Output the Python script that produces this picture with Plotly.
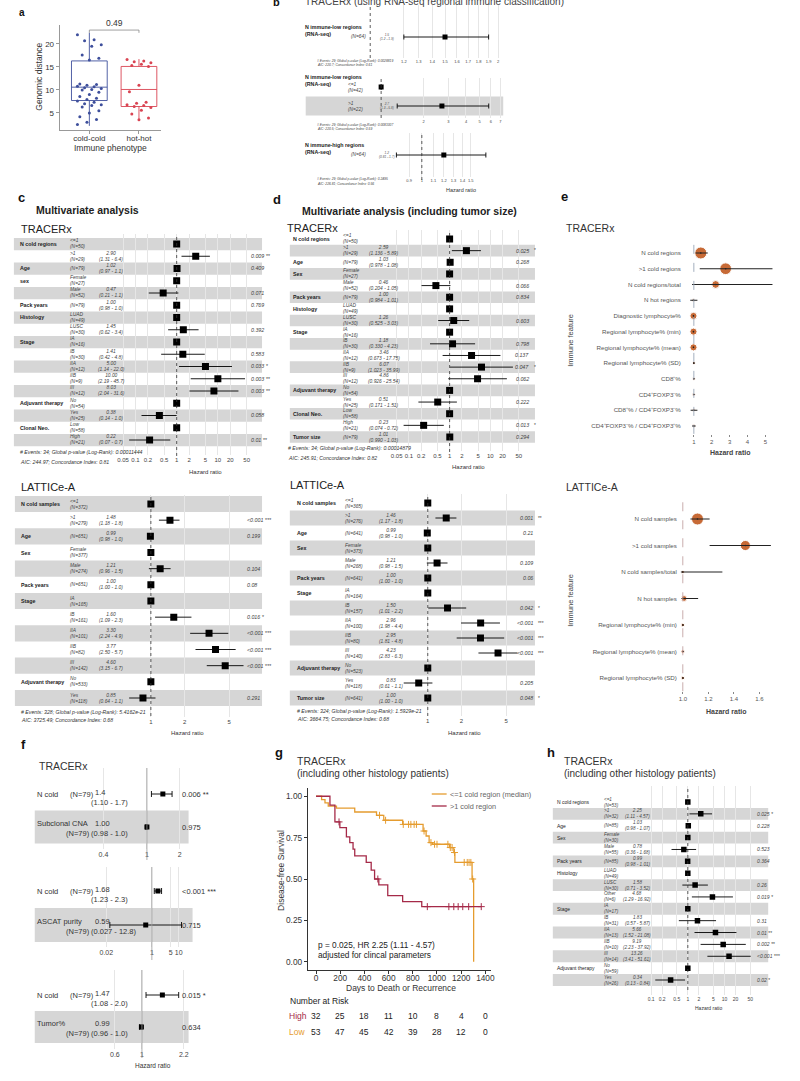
import plotly.graph_objects as go

FONT = "Liberation Sans, Arial, Helvetica, sans-serif"
W, H = 800, 1081
BAND = "#d6d6d6"

# ======================= DATA =======================
# ---- Panel a
a_groups = ["cold-cold", "hot-hot"]
a_cold = [22.0, 20.9, 20.7, 19.8, 19.5, 17.6, 16.9, 16.5, 11.3, 11.2, 11.0, 10.8, 10.7, 10.5,
          10.3, 10.1, 10.0, 9.5, 9.0, 8.6, 8.2, 7.9, 7.6, 7.3, 7.0, 6.8, 6.6, 6.3, 5.5, 5.0,
          4.2, 3.6, 3.0, 2.5]
a_hot = [16.6, 16.3, 16.1, 15.9, 15.6, 15.3, 15.1, 11.0, 9.6, 7.3, 7.1, 6.8, 6.6, 6.4, 6.2,
         5.6, 4.8, 3.9, 3.5]
a_q1 = [7.7, 6.4]
a_med = [10.6, 10.1]
a_q3 = [16.3, 15.1]
a_low = [2.2, 3.7]
a_high = [22.4, 16.7]
a_p = "0.49"
a_yticks = [5, 10, 15, 20]

# ---- Panel b
b_titles = ["N immune-low regions", "N immune-low regions", "N immune-high regions"]
b1_level = [""]; b1_n = [64]; b1_hr = ["1.5"]; b1_lo = ["1.2"]; b1_hi = ["1.9"]; b1_p = ["0.002 **"]
b2_level = ["<=1", ">1"]; b2_n = [42, 22]; b2_hr = ["", "2.7"]; b2_lo = ["", "1.3"]; b2_hi = ["", "5.8"]; b2_p = ["", "0.008 **"]
b3_level = [""]; b3_n = [64]; b3_hr = ["1.2"]; b3_lo = ["0.81"]; b3_hi = ["1.7"]; b3_p = ["0.336"]
b1_ticks = [1.2, 1.3, 1.4, 1.5, 1.6, 1.7, 1.8, 1.9, 2]
b2_ticks = [2, 3, 4, 5, 6, 7]
b3_ticks = [0.9, 1, 1.1, 1.2, 1.3, 1.4, 1.5]
b_notes = [["# Events: 29; Global p-value (Log-Rank): 0.0028819", "AIC: 220.7; Concordance Index: 0.61"],
           ["# Events: 29; Global p-value (Log-Rank): 0.0081007", "AIC: 220.5; Concordance Index: 0.59"],
           ["# Events: 29; Global p-value (Log-Rank): 0.2495", "AIC: 226.81; Concordance Index: 0.56"]]

# ---- Panel c (TRACERx)
c1_var = ["N cold regions", "", "Age", "sex", "", "Pack years", "Histology", "", "Stage", "", "", "", "",
          "Adjuvant therapy", "", "Clonal Neo.", ""]
c1_level = ["<=1", ">1", "", "Female", "Male", "", "LUAD", "LUSC", "IA", "IB", "IIA", "IIB", "III",
            "No", "Yes", "Low", "High"]
c1_n = [50, 29, 79, 27, 52, 79, 49, 30, 16, 30, 12, 9, 12, 54, 25, 58, 21]
c1_hr = ["", "2.90", "1.02", "", "0.47", "1.00", "", "1.45", "", "1.41", "5.00", "10.00", "8.03", "", "0.38", "", "0.22"]
c1_lo = ["", "1.31", "0.97", "", "0.21", "0.98", "", "0.62", "", "0.42", "1.14", "2.19", "2.04", "", "0.14", "", "0.07"]
c1_hi = ["", "6.4", "1.1", "", "1.1", "1.0", "", "3.4", "", "4.8", "22.0", "45.7", "31.6", "", "1.0", "", "0.7"]
c1_p = ["", "0.009 **", "0.409", "", "0.071", "0.769", "", "0.392", "", "0.583", "0.033 *", "0.003 **",
        "0.003 **", "", "0.058", "", "0.01 **"]
c1_notes = ["# Events: 34; Global p-value (Log-Rank): 0.00011444", "AIC: 244.97; Concordance Index: 0.81"]
c1_ticks = [0.05, 0.1, 0.2, 0.5, 1, 2, 5, 10, 20, 50]

# ---- Panel c (LATTICe-A)
c2_var = ["N cold samples", "", "Age", "Sex", "", "Pack years", "Stage", "", "", "", "", "Adjuvant therapy", ""]
c2_level = ["<=1", ">1", "", "Female", "Male", "", "IA", "IB", "IIA", "IIB", "III", "No", "Yes"]
c2_n = [372, 279, 651, 377, 274, 651, 165, 161, 101, 82, 142, 533, 118]
c2_hr = ["", "1.48", "0.99", "", "1.21", "1.00", "", "1.60", "3.30", "3.77", "4.60", "", "0.85"]
c2_lo = ["", "1.18", "0.98", "", "0.96", "1.00", "", "1.09", "2.24", "2.50", "3.15", "", "0.64"]
c2_hi = ["", "1.8", "1.0", "", "1.5", "1.0", "", "2.3", "4.9", "5.7", "6.7", "", "1.1"]
c2_p = ["", "<0.001 ***", "0.199", "", "0.104", "0.08", "", "0.016 *", "<0.001 ***", "<0.001 ***",
        "<0.001 ***", "", "0.291"]
c2_notes = ["# Events: 328; Global p-value (Log-Rank): 5.4162e-21", "AIC: 3725.49; Concordance Index: 0.68"]
c2_ticks = [1, 2, 5]

# ---- Panel d (TRACERx)
d1_var = ["N cold regions", "", "Age", "Sex", "", "Pack years", "Histology", "", "Stage", "", "", "", "",
          "Adjuvant therapy", "", "Clonal Neo.", "", "Tumor size"]
d1_level = ["<=1", ">1", "", "Female", "Male", "", "LUAD", "LUSC", "IA", "IB", "IIA", "IIB", "III",
            "No", "Yes", "Low", "High", ""]
d1_n = [50, 29, 79, 27, 52, 79, 49, 30, 16, 30, 12, 9, 12, 54, 25, 58, 21, 79]
d1_hr = ["", "2.59", "1.03", "", "0.46", "1.00", "", "1.26", "", "1.18", "3.46", "6.07", "4.86", "", "0.51", "", "0.23", "1.01"]
d1_lo = ["", "1.136", "0.978", "", "0.204", "0.984", "", "0.525", "", "0.330", "0.673", "1.023", "0.926", "", "0.171", "", "0.074", "0.990"]
d1_hi = ["", "5.89", "1.08", "", "1.05", "1.01", "", "3.03", "", "4.23", "17.75", "35.99", "25.54", "", "1.51", "", "0.72", "1.03"]
d1_p = ["", "0.025 *", "0.268", "", "0.066", "0.834", "", "0.603", "", "0.798", "0.137", "0.047 *", "0.062",
        "", "0.222", "", "0.013 *", "0.294"]
d1_notes = ["# Events: 34; Global p-value (Log-Rank): 0.00014879", "AIC: 245.91; Concordance Index: 0.82"]

# ---- Panel d (LATTICe-A)
d2_var = ["N cold samples", "", "Age", "Sex", "", "Pack years", "Stage", "", "", "", "", "Adjuvant therapy", "", "Tumor size"]
d2_level = ["<=1", ">1", "", "Female", "Male", "", "IA", "IB", "IIA", "IIB", "III", "No", "Yes", ""]
d2_n = [365, 276, 641, 373, 268, 641, 164, 157, 100, 80, 140, 523, 118, 641]
d2_hr = ["", "1.46", "0.99", "", "1.21", "1.00", "", "1.50", "2.96", "2.95", "4.23", "", "0.83", "1.00"]
d2_lo = ["", "1.17", "0.98", "", "0.98", "1.00", "", "1.01", "1.98", "1.81", "2.83", "", "0.61", "1.00"]
d2_hi = ["", "1.8", "1.0", "", "1.5", "1.0", "", "2.2", "4.4", "4.8", "6.3", "", "1.1", "1.0"]
d2_p = ["", "0.001 **", "0.21", "", "0.109", "0.06", "", "0.042 *", "<0.001 ***", "<0.001 ***", "<0.001 ***",
        "", "0.205", "0.048 *"]
d2_notes = ["# Events: 324; Global p-value (Log-Rank): 1.5929e-21", "AIC: 3664.75; Concordance Index: 0.68"]

# ---- Panel e
e1_labels = ["N cold regions", ">1 cold regions", "N cold regions/total", "N hot regions",
             "Diagnostic lymphocyte%", "Regional lymphocyte% (min)", "Regional lymphocyte% (mean)",
             "Regional lymphocyte% (SD)", "CD8⁺%", "CD4⁺FOXP3⁻%", "CD8⁺% / CD4⁺FOXP3⁻%",
             "CD4⁺FOXP3⁻% / CD4⁺FOXP3⁺%"]
e1_hr = [1.39, 2.78, 2.22, 0.98, 0.98, 0.98, 0.98, 1.0, 1.0, 1.0, 1.0, 1.0]
e1_lo = [1.10, 1.33, 0.90, 0.80, 0.95, 0.95, 0.95, 0.96, 0.97, 0.97, 0.82, 0.90]
e1_hi = [1.78, 5.40, 5.40, 1.20, 1.01, 1.01, 1.01, 1.04, 1.03, 1.03, 1.20, 1.10]
e1_sig = [2.9, 2.8, 1.6, 0.1, 1.4, 1.4, 1.4, 0.1, 0.1, 0.1, 0.1, 0.1]
e1_ticks = [1, 2, 3, 4, 5]
e2_labels = ["N cold samples", ">1 cold samples", "N cold samples/total", "N hot samples",
             "Regional lymphocyte% (min)", "Regional lymphocyte% (mean)", "Regional lymphocyte% (SD)"]
e2_hr = [1.115, 1.49, 1.0, 1.01, 1.0, 1.0, 1.0]
e2_lo = [1.06, 1.21, 0.985, 0.99, 0.995, 0.995, 0.995]
e2_hi = [1.21, 1.69, 1.31, 1.12, 1.008, 1.008, 1.008]
e2_sig = [2.9, 2.3, 0.2, 1.0, 0.3, 0.3, 0.3]
e2_ticks = [1.0, 1.2, 1.4, 1.6]

# ---- Panel f
f1_name = ["N cold", "Subclonal CNA"]; f1_n = [79, 79]; f1_hr = ["1.4", "1.00"]; f1_lo = ["1.10", "0.98"]
f1_hi = ["1.7", "1.0"]; f1_p = ["0.006 **", "0.975"]; f1_ticks = [0.4, 1, 2]
f2_name = ["N cold", "ASCAT purity"]; f2_n = [79, 79]; f2_hr = ["1.68", "0.59"]; f2_lo = ["1.23", "0.027"]
f2_hi = ["2.3", "12.8"]; f2_p = ["<0.001 ***", "0.715"]; f2_ticks = [0.02, 1, 5, 10]
f3_name = ["N cold", "Tumor%"]; f3_n = [79, 79]; f3_hr = ["1.47", "0.99"]; f3_lo = ["1.08", "0.96"]
f3_hi = ["2.0", "1.0"]; f3_p = ["0.015 *", "0.634"]; f3_ticks = [0.6, 1, 2.2]

# ---- Panel g (Kaplan-Meier)
g_low_t = [0, 46, 74, 101, 169, 320, 500, 560, 716, 885, 910, 935, 962, 1104, 1139, 1148, 1290, 1303]
g_low_s = [1.0, 0.98, 0.96, 0.94, 0.928, 0.905, 0.885, 0.855, 0.83, 0.79, 0.76, 0.72, 0.71, 0.69, 0.66, 0.60, 0.50, 0.0]
g_high_t = [0, 115, 156, 197, 251, 279, 306, 320, 415, 456, 484, 519, 593, 716, 874, 1366]
g_high_s = [1.0, 0.946, 0.845, 0.81, 0.755, 0.72, 0.68, 0.64, 0.60, 0.554, 0.50, 0.465, 0.40, 0.363, 0.333, 0.333]
g_low_cens = [525, 575, 721, 765, 784, 811, 830, 893, 950, 980, 1000, 1090, 1110, 1125, 1145, 1225, 1250,
              1265, 1280, 1295]
g_high_cens = [190, 511, 920, 1098, 1139, 1175, 1213, 1262, 1366]
g_xticks = [0, 200, 400, 600, 800, 1000, 1200, 1400]
g_yticks = [0, 0.25, 0.5, 0.75, 1.0]
g_risk_high = [32, 25, 18, 11, 10, 8, 4, 0]
g_risk_low = [53, 47, 45, 42, 39, 28, 12, 0]
g_legend = ["<=1 cold region (median)", ">1 cold region"]

# ---- Panel h
h_var = ["N cold regions", "", "Age", "Sex", "", "Pack years", "Histology", "", "", "Stage", "", "", "", "",
         "Adjuvant therapy", ""]
h_level = ["<=1", ">1", "", "Female", "Male", "", "LUAD", "LUSC", "Other", "IA", "IB", "IIA", "IIB", "III", "No", "Yes"]
h_n = [53, 32, 85, 30, 55, 85, 49, 30, 6, 17, 31, 13, 10, 14, 59, 26]
h_hr = ["", "2.25", "1.03", "", "0.78", "0.99", "", "1.58", "4.68", "", "1.83", "5.66", "9.19", "13.26", "", "0.34"]
h_lo = ["", "1.11", "0.98", "", "0.36", "0.98", "", "0.71", "1.29", "", "0.57", "1.52", "2.23", "3.41", "", "0.13"]
h_hi = ["", "4.57", "1.07", "", "1.68", "1.01", "", "3.52", "16.92", "", "5.87", "21.08", "37.92", "51.61", "", "0.84"]
h_p = ["", "0.025 *", "0.228", "", "0.523", "0.364", "", "0.26", "0.019 *", "", "0.31", "0.01 **", "0.002 **",
       "<0.001 ***", "", "0.02 *"]
h_ticks = [0.1, 0.2, 0.5, 1, 2, 5, 10, 20, 50]

# ======================= HELPERS =======================
fig = go.Figure()
annotations, shapes, axes = [], [], {}
n_ax = [0]


def X(p):
    return p / W


def Y(p):
    return 1 - p / H


def esc(s):
    return s.replace("&", "&amp;").replace("<", "&lt;").replace(">", "&gt;")


def new_axes(x0, x1, y0, y1, xopt=None, yopt=None):
    n_ax[0] += 1
    k = n_ax[0]
    sfx = "" if k == 1 else str(k)
    base = dict(showgrid=False, zeroline=False, showline=False, ticks="", showticklabels=False,
                fixedrange=True, tickangle=0)
    xa = dict(base, domain=[X(x0), X(x1)], anchor="y" + sfx)
    ya = dict(base, domain=[Y(y1), Y(y0)], anchor="x" + sfx)
    if xopt:
        xa.update(xopt)
    if yopt:
        ya.update(yopt)
    axes["xaxis" + sfx] = xa
    axes["yaxis" + sfx] = ya
    return "x" + sfx, "y" + sfx


def txt(x, y, s, size=5.0, color="#222", xa="left", ya="middle", xref="paper", yref="paper",
        angle=0, align="left", yshift=0):
    annotations.append(dict(
        x=X(x) if xref == "paper" else x, y=Y(y) if yref == "paper" else y,
        xref=xref, yref=yref, text=s, showarrow=False, xanchor=xa, yanchor=ya, yshift=yshift,
        font=dict(family=FONT, size=size, color=color), textangle=angle, align=align))


def forest(d, y_first, y_last, ytop, ybot, x1px, ppd, xdom, band, odd_gray, ticks, tick_fs=6.0,
           msize=7, caps=0, vline=None, vstyle=None, row_h=12, grid=True):
    n = len(d["hr"])
    h = row_h if n == 1 else (y_last - y_first) / (n - 1)
    vt = (ytop - y_first) / h
    vb = (ybot - y_first) / h
    xr = [(xdom[0] - x1px) / ppd, (xdom[1] - x1px) / ppd]
    xa, ya = new_axes(xdom[0], xdom[1], ytop, ybot,
                      dict(type="log", range=xr, tickvals=ticks, ticktext=[f"{t:g}" for t in ticks],
                           showticklabels=True, tickfont=dict(size=tick_fs, color="#444", family=FONT),
                           showgrid=grid, gridcolor="#e6e6e6", gridwidth=0.6, tickangle=0),
                      dict(range=[vb, vt]))
    rows = list(range(n))
    if band:
        for i in rows:
            if (i % 2 == 1) == odd_gray:
                shapes.append(dict(type="rect", xref="paper", yref=ya, x0=X(band[0]), x1=X(band[1]),
                                   y0=i - 0.5, y1=i + 0.5, fillcolor=BAND, line=dict(width=0), layer="below"))
    if vline:
        st = vstyle or dict(color="#333", width=0.8, dash="dot")
        shapes.append(dict(type="line", xref=xa, yref="paper", x0=1, x1=1, y0=Y(vline[1]), y1=Y(vline[0]),
                           line=st))
    hr = [float(v) if v else 1.0 for v in d["hr"]]
    ep = [float(d["hi"][i]) - hr[i] if d["hi"][i] else 0 for i in rows]
    em = [hr[i] - float(d["lo"][i]) if d["lo"][i] else 0 for i in rows]
    fig.add_trace(go.Scatter(
        x=hr, y=rows, xaxis=xa, yaxis=ya, mode="markers",
        marker=dict(symbol="square", size=msize, color="black"),
        error_x=dict(type="data", symmetric=False, array=ep, arrayminus=em, color="black",
                     thickness=0.9, width=caps),
        hoverinfo="skip", showlegend=False))
    return xa, ya


def forest_texts(d, ya, col_var, col_lvl, col_hr, p_x, p_right, fs, var_bold=True):
    for i in range(len(d["hr"])):
        v = d["var"][i]
        if v:
            s = esc(v)
            txt(col_var, i, f"<b>{s}</b>" if var_bold else s, fs, "#222", yref=ya)
        lvl = d["level"][i]
        ns = f"(N={d['n'][i]})"
        s = f"{esc(lvl)}<br>{ns}" if lvl else ns
        txt(col_lvl, i, f"<i>{s}</i>", fs * 0.92, "#444", yref=ya)
        if d["lo"][i]:
            txt(col_hr, i, f"<i>{d['hr'][i]}<br>({d['lo'][i]} - {d['hi'][i]})</i>", fs * 0.92, "#444",
                xa="center", yref=ya, align="center")
        p = d["p"][i]
        if p:
            num, _, stars = p.partition(" ")
            if p_right:
                txt(p_x, i, f"<i>{esc(num)}</i>", fs, "#444", xa="right", yref=ya)
                if stars:
                    txt(p_x + 1, i, stars, fs * 0.9, "#444", yref=ya)
            else:
                txt(p_x, i, f"<i>{esc(p)}</i>", fs, "#444", yref=ya)


def pack(var, level, n, hr, lo, hi, p):
    return dict(var=var, level=level, n=n, hr=hr, lo=lo, hi=hi, p=p)


# ======================= PANEL a =======================
BLUE, RED = "#3e4f9c", "#d94452"
xa, ya = new_axes(58, 160, 25, 130,
                  dict(range=[-0.6, 1.44], tickvals=[0, 1], ticktext=a_groups, showticklabels=True,
                       showline=True, linecolor="#999", linewidth=0.8, ticks="outside", ticklen=3,
                       tickcolor="#999", tickfont=dict(size=8, color="#333"), ticklabelstandoff=-3),
                  dict(range=[1.3, 24.1], tickvals=a_yticks, showticklabels=True, showline=True,
                       linecolor="#999", linewidth=0.8, ticks="outside", ticklen=3, tickcolor="#999",
                       tickfont=dict(size=8, color="#333")))
for gi, col in enumerate([BLUE, RED]):
    fig.add_trace(go.Box(x=[gi], q1=[a_q1[gi]], median=[a_med[gi]], q3=[a_q3[gi]],
                         lowerfence=[a_low[gi]], upperfence=[a_high[gi]], width=0.72, whiskerwidth=0,
                         orientation="v", fillcolor="rgba(255,255,255,0)", line=dict(color=col, width=0.9),
                         boxpoints=False, xaxis=xa, yaxis=ya, hoverinfo="skip", showlegend=False))
for gi, (vals, col) in enumerate([(a_cold, BLUE), (a_hot, RED)]):
    jit = [gi + ((i * 7) % 11 - 5) / 5 * 0.24 for i in range(len(vals))]
    fig.add_trace(go.Scatter(x=jit, y=vals, xaxis=xa, yaxis=ya, mode="markers",
                             marker=dict(size=3, color=col), hoverinfo="skip", showlegend=False))
shapes.append(dict(type="path", xref=xa, yref=ya, path="M 0 22.4 L 0 23.0 L 1 23.0 L 1 22.4",
                   line=dict(color="#888", width=0.8)))
txt(0.5, 23.0, a_p, 8.5, "#333", xa="center", ya="bottom", xref=xa, yref=ya)
txt(37, 77, "Genomic distance", 8.5, "#333", xa="center", angle=-90)
txt(109, 148, "Immune phenotype", 8.5, "#333", xa="center")
txt(20, 12, "<b>a</b>", 10, "#111", xa="center")

# ======================= PANEL b =======================
txt(277, 2, "<b>b</b>", 11, "#111", xa="center")
txt(303, 1, "TRACERx (using RNA-seq regional immune classification)", 10, "#444")
b_specs = [
    (pack([""], b1_level, b1_n, b1_hr, b1_lo, b1_hi, b1_p), dict(y_first=37, y_last=37, ytop=5, ybot=58,
     x1px=371, ppd=428, xdom=(366, 505), band=None, odd_gray=True, ticks=b1_ticks, vline=(5, 58)), 30.5, 61),
    (pack(["", ""], b2_level, b2_n, b2_hr, b2_lo, b2_hi, b2_p), dict(y_first=87, y_last=106, ytop=78, ybot=118,
     x1px=382, ppd=142, xdom=(366, 505), band=(306, 505), odd_gray=True, ticks=b2_ticks, vline=(78, 118)), 80.5, 125),
    (pack([""], b3_level, b3_n, b3_hr, b3_lo, b3_hi, b3_p), dict(y_first=155, y_last=155, ytop=133, ybot=177,
     x1px=423, ppd=280, xdom=(385, 505), band=None, odd_gray=True, ticks=b3_ticks, vline=(133, 180)), 148.5, 179),
]
for bi, (d, spec, ty, ny) in enumerate(b_specs):
    bxa, bya = forest(d, tick_fs=4, msize=5, caps=2.5, row_h=20, **spec)
    txt(303, ty, f"<b>{b_titles[bi]}<br>(RNA-seq)</b>", 5.3, "#222")
    for i in range(len(d["hr"])):
        lvl = d["level"][i]
        s = f"{esc(lvl)}<br>(N={d['n'][i]})" if lvl else f"(N={d['n'][i]})"
        txt(347 if lvl else 350, i, f"<i>{s}</i>", 4.8, "#444", yref=bya)
        if d["lo"][i]:
            txt(388, i, f"<i>{d['hr'][i]}<br>({d['lo'][i]} - {d['hi'][i]})</i>", 3.2, "#555",
                xa="center", yref=bya, align="center")
        if d["p"][i]:
            txt(float(d["hi"][i]), i, f"<i>{esc(d['p'][i])}</i>", 4.8, "#444", xref=bxa, yref=bya)
    txt(315, ny, f"<i>{b_notes[bi][0]}</i>", 3.3, "#444")
    txt(315, ny + 4.5, f"<i>{b_notes[bi][1]}</i>", 3.3, "#444")
txt(462, 190, "Hazard ratio", 5.5, "#333", xa="center")

# ======================= PANEL c =======================
txt(20, 198, "<b>c</b>", 13, "#111", xa="center")
txt(32, 210, "<b>Multivariate analysis</b>", 10.5, "#222")
txt(17, 229, "TRACERx", 11, "#222")
d = pack(c1_var, c1_level, c1_n, c1_hr, c1_lo, c1_hi, c1_p)
cxa, cya = forest(d, 244, 440, 234, 455, 176, 41.5, (118, 250), (12, 262), False, c1_ticks,
                  tick_fs=6, msize=7, vline=(234, 456))
forest_texts(d, cya, 16, 66, 110, 249, False, 5.3)
txt(16, 452, f"<i>{c1_notes[0]}</i>", 5.2, "#333")
txt(16, 462, f"<i>{c1_notes[1]}</i>", 5.2, "#333")
txt(205, 472, "Hazard ratio", 6, "#333", xa="center")

txt(17, 487, "LATTICe-A", 11, "#222")
d = pack(c2_var, c2_level, c2_n, c2_hr, c2_lo, c2_hi, c2_p)
cxa, cya = forest(d, 504, 698, 495, 717, 150, 113, (125, 250), (13, 262), False, c2_ticks,
                  tick_fs=6, msize=7, vline=(495, 716))
forest_texts(d, cya, 17, 67, 110, 245, False, 5.3)
txt(17, 712, f"<i>{c2_notes[0]}</i>", 5.2, "#333")
txt(17, 720, f"<i>{c2_notes[1]}</i>", 5.2, "#333")
txt(187, 733, "Hazard ratio", 6, "#333", xa="center")

# ======================= PANEL d =======================
txt(277, 199, "<b>d</b>", 13, "#111", xa="center")
txt(411, 211, "<b>Multivariate analysis (including tumor size)</b>", 10.5, "#222", xa="center")
txt(285, 228, "TRACERx", 11, "#222")
d = pack(d1_var, d1_level, d1_n, d1_hr, d1_lo, d1_hi, d1_p)
dxa, dya = forest(d, 239, 437, 230, 451, 451, 41, (393, 525), (290, 537), True, c1_ticks,
                  tick_fs=6, msize=7, vline=(230, 452))
forest_texts(d, dya, 291, 342, 385, 533, True, 5.3)
txt(286, 448, f"<i>{d1_notes[0]}</i>", 5.2, "#333")
txt(286, 458, f"<i>{d1_notes[1]}</i>", 5.2, "#333")
txt(470, 467, "Hazard ratio", 6, "#333", xa="center")

txt(288, 485, "LATTICe-A", 11, "#222")
d = pack(d2_var, d2_level, d2_n, d2_hr, d2_lo, d2_hi, d2_p)
dxa, dya = forest(d, 503, 698, 494, 716, 429, 113, (404, 529), (290, 537), True, c2_ticks,
                  tick_fs=6, msize=7, vline=(494, 716))
forest_texts(d, dya, 295, 344, 392, 537, True, 5.3)
txt(295, 711, f"<i>{d2_notes[0]}</i>", 5.2, "#333")
txt(295, 719, f"<i>{d2_notes[1]}</i>", 5.2, "#333")
txt(466, 733, "Hazard ratio", 6, "#333", xa="center")

# ======================= PANEL e =======================
ORANGE_PT = "#c5632c"


def effect_panel(labels, hr, lo, hi, sig, r_first, r_last, xdom, xr, ticks, ticktext, dash_color):
    n = len(labels)
    h = (r_last - r_first) / (n - 1)
    ytop, ybot = r_first - h / 2, r_last + h / 2
    xa, ya = new_axes(xdom[0], xdom[1], ytop, ybot,
                      dict(range=xr, tickvals=ticks, ticktext=ticktext,
                           showticklabels=True, ticks="outside", ticklen=2, tickcolor="#888",
                           tickfont=dict(size=6, color="#555")),
                      dict(range=[n - 0.5, -0.5], tickvals=list(range(n)), ticktext=labels,
                           showticklabels=True, tickfont=dict(size=6.2, color="#555")))
    shapes.append(dict(type="line", xref=xa, yref="paper", x0=1, x1=1, y0=Y(ybot), y1=Y(ytop - 6),
                       line=dict(color=dash_color, width=0.9, dash="dash")))
    rows = list(range(n))
    fig.add_trace(go.Scatter(x=hr, y=rows, xaxis=xa, yaxis=ya, mode="markers",
                             marker=dict(size=[2.5 + 3.3 * s for s in sig], color=ORANGE_PT, opacity=0.95),
                             hoverinfo="skip", showlegend=False))
    fig.add_trace(go.Scatter(x=hr, y=rows, xaxis=xa, yaxis=ya, mode="markers",
                             marker=dict(size=1.6, color="#222"),
                             error_x=dict(type="data", symmetric=False,
                                          array=[hi[i] - hr[i] for i in rows],
                                          arrayminus=[hr[i] - lo[i] for i in rows],
                                          color="#222", thickness=1.1, width=0),
                             hoverinfo="skip", showlegend=False))
    return xa, ya


txt(567, 197, "<b>e</b>", 13, "#111", xa="center")
txt(566, 228, "TRACERx", 10.5, "#333")
effect_panel(e1_labels, e1_hr, e1_lo, e1_hi, e1_sig, 253, 426, (685, 777), [0.33, 5.44], e1_ticks,
             [f"{t:g}" for t in e1_ticks], "#9aa6b8")
txt(733, 452, "<b>Hazard ratio</b>", 7, "#444", xa="center")
txt(572, 340, "Immune feature", 7.5, "#444", xa="center", angle=-90)

txt(566, 487, "LATTICe-A", 10.5, "#333")
effect_panel(e2_labels, e2_hr, e2_lo, e2_hi, e2_sig, 519, 678, (681, 777), [0.9615, 1.708], e2_ticks,
             [f"{t:.1f}" for t in e2_ticks], "#c4a4a4")
txt(729, 711, "<b>Hazard ratio</b>", 7, "#444", xa="center")
txt(572, 600, "Immune feature", 7.5, "#444", xa="center", angle=-90)

# ======================= PANEL f =======================
txt(22, 745, "<b>f</b>", 13, "#111", xa="center")
txt(35, 766, "TRACERx", 10.5, "#333")
f_specs = [
    (pack(f1_name, ["", ""], f1_n, f1_hr, f1_lo, f1_hi, f1_p),
     dict(y_first=794, y_last=827, ytop=768, ybot=849, x1px=146, ppd=110, xdom=(95, 188), band=(33, 188),
          ticks=f1_ticks, vline=(768, 860))),
    (pack(f2_name, ["", ""], f2_n, f2_hr, f2_lo, f2_hi, f2_p),
     dict(y_first=891, y_last=925, ytop=867, ybot=947, x1px=151, ppd=27, xdom=(98, 192), band=(33, 192),
          ticks=f2_ticks, vline=(867, 960))),
    (pack(f3_name, ["", ""], f3_n, f3_hr, f3_lo, f3_hi, f3_p),
     dict(y_first=995, y_last=1027, ytop=970, ybot=1049, x1px=141, ppd=123, xdom=(95, 188), band=(33, 188),
          ticks=f3_ticks, vline=(970, 1058))),
]
for d, spec in f_specs:
    fxa, fya = forest(d, odd_gray=True, tick_fs=7, msize=5, caps=3,
                      vstyle=dict(color="#999", width=0.8), **spec)
    for i in range(2):
        if i == 0:
            txt(33, i, esc(d["var"][i]), 7.5, "#333", yref=fya)
            txt(66, i, f"(N={d['n'][i]})", 7.5, "#333", yref=fya)
            txt(92, i, d["hr"][i], 7.5, "#333", yref=fya, yshift=2)
            txt(88, i, f"({d['lo'][i]} - {d['hi'][i]})", 7.5, "#333", yref=fya, yshift=-8)
        else:
            txt(33, i, esc(d["var"][i]), 7.5, "#333", yref=fya, yshift=4)
            txt(92, i, d["hr"][i], 7.5, "#333", yref=fya, yshift=4)
            txt(62, i, f"(N={d['n'][i]})", 7.5, "#333", yref=fya, yshift=-6)
            txt(88, i, f"({d['lo'][i]} - {d['hi'][i]})", 7.5, "#333", yref=fya, yshift=-6)
        txt(179, i, esc(d["p"][i]), 7.5, "#333", yref=fya)
txt(152, 1065, "Hazard ratio", 6.5, "#333", xa="center")

# ======================= PANEL g =======================
ORANGE, DRED = "#e59c2f", "#a52a48"
txt(279, 752, "<b>g</b>", 13, "#111", xa="center")
txt(295, 761, "TRACERx", 10.5, "#333")
txt(295, 773, "(including other histology patients)", 10, "#333")
gxa, gya = new_axes(308, 493, 788, 970,
                    dict(range=[-69, 1449], tickvals=g_xticks, showticklabels=True, ticks="outside",
                         ticklen=3, tickcolor="#333", showline=True, linecolor="#333", linewidth=0.8,
                         tickfont=dict(size=8.3, color="#333"), ticklabelstandoff=-3),
                    dict(range=[-0.05, 1.05], tickvals=g_yticks, ticktext=[f"{v:.2f}" for v in g_yticks],
                         showticklabels=True, ticks="outside", ticklen=3, tickcolor="#333", showline=True,
                         linecolor="#333", linewidth=0.8, tickfont=dict(size=8.3, color="#333")))


def surv_at(ts, ss, t):
    s = ss[0]
    for ti, si in zip(ts, ss):
        if ti <= t:
            s = si
    return s


for ts, ss, cens, col in [(g_low_t, g_low_s, g_low_cens, ORANGE), (g_high_t, g_high_s, g_high_cens, DRED)]:
    fig.add_trace(go.Scatter(x=ts, y=ss, xaxis=gxa, yaxis=gya, mode="lines",
                             line=dict(shape="hv", color=col, width=1.3), hoverinfo="skip", showlegend=False))
    fig.add_trace(go.Scatter(x=cens, y=[surv_at(ts, ss, t) for t in cens], xaxis=gxa, yaxis=gya,
                             mode="markers", marker=dict(symbol="cross-thin", size=5,
                                                         line=dict(color=col, width=1)),
                             hoverinfo="skip", showlegend=False))
for k, (col, lab) in enumerate([(ORANGE, g_legend[0]), (DRED, g_legend[1])]):
    yy = 794 + 12 * k
    shapes.append(dict(type="line", xref="paper", yref="paper", x0=X(433), x1=X(448), y0=Y(yy), y1=Y(yy),
                       line=dict(color=col, width=1.3)))
    txt(449, yy, esc(lab), 7.3, "#666")
txt(316, 945, "p = 0.025, HR 2.25 (1.11 - 4.57)", 8.3, "#222")
txt(316, 955, "adjusted for clincal parameters", 8.3, "#222")
txt(281, 870, "Disease-free Survival", 8.5, "#333", xa="center", angle=-90)
txt(402, 988, "Days to Death or Recurrence", 8.5, "#333", xa="center")
txt(288, 1001, "Number at Risk", 8.5, "#222")
txt(287, 1016, "High", 8.5, DRED)
txt(287, 1032, "Low", 8.5, ORANGE)
for t, hv, lv in zip(g_xticks, g_risk_high, g_risk_low):
    txt(t, 1016, str(hv), 8.5, "#222", xa="center", xref=gxa)
    txt(t, 1032, str(lv), 8.5, "#222", xa="center", xref=gxa)

# ======================= PANEL h =======================
txt(553, 752, "<b>h</b>", 13, "#111", xa="center")
txt(564, 761, "TRACERx", 10.5, "#333")
txt(564, 773, "(including other histology patients)", 10, "#333")
d = pack(h_var, h_level, h_n, h_hr, h_lo, h_hi, h_p)
hxa, hya = forest(d, 802, 980, 786, 995, 691, 37, (650, 762), (555, 772), True, h_ticks,
                  tick_fs=5, msize=5.5, vline=(786, 990))
forest_texts(d, hya, 557, 605, 640, 759, False, 5.0, var_bold=False)
txt(712, 1008, "Hazard ratio", 5, "#333", xa="center")

# ======================= LAYOUT =======================
fig.update_layout(width=W, height=H, autosize=False, margin=dict(l=0, r=0, t=0, b=0),
                  paper_bgcolor="white", plot_bgcolor="rgba(0,0,0,0)", showlegend=False,
                  font=dict(family=FONT, color="#222"), annotations=annotations, shapes=shapes, **axes)
fig.write_html("out.html", config={"displayModeBar": False},
               post_script="document.body.style.margin='0';document.body.style.padding='0';")
